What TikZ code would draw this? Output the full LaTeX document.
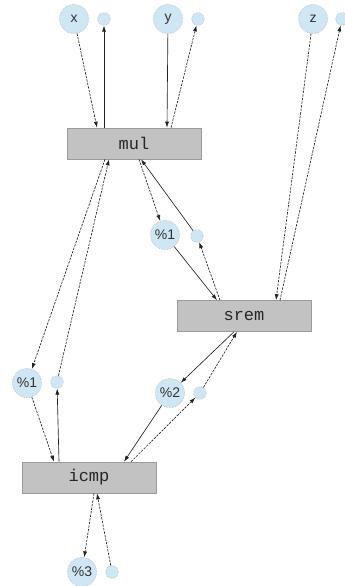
\documentclass[tikz,border=0pt]{standalone}
\usepackage{fontspec}
\setmainfont{Liberation Sans}
\setmonofont{Liberation Mono}
\usetikzlibrary{arrows.meta}
\definecolor{valfill}{HTML}{CFE6F5}
\definecolor{valline}{HTML}{A9B8C2}
\definecolor{opfill}{HTML}{C2C2C2}
\definecolor{opline}{HTML}{9A9A9A}
\definecolor{edge}{HTML}{222222}
\begin{document}
\begin{tikzpicture}[x=1pt,y=-1pt,
  val/.style={circle,fill=valfill,draw=valline,densely dotted,line width=0.6pt,minimum size=29pt,inner sep=0pt,font=\fontsize{14}{14}\selectfont,text=black!80},
  use/.style={circle,fill=valfill,draw=valline,densely dotted,line width=0.6pt,minimum size=12.5pt,inner sep=0pt},
  op/.style={rectangle,fill=opfill,draw=opline,line width=0.6pt,minimum width=134pt,minimum height=31pt,inner sep=0pt,font=\ttfamily\fontsize{17}{17}\selectfont,text=black!85},
  sl/.style={draw=edge,line width=0.65pt,-{Latex[length=6pt,width=4pt]}},
  dl/.style={sl,dash pattern=on 2.4pt off 1.2pt}]
\useasboundingbox (0,0) rectangle (345,586);
% value nodes
\node[val] (x) at (74,19) {x};
\node[use] (xs) at (104,19) {};
\node[val] (y) at (168,19) {y};
\node[use] (ys) at (198,19) {};
\node[val] (z) at (313,19) {z};
\node[use] (zs) at (342,19) {};
\node[val] (v1r) at (165,235) {\%1};
\node[use] (v1rs) at (197,236) {};
\node[val] (v1l) at (27,383) {\%1};
\node[use] (v1ls) at (57,382) {};
\node[val] (v2) at (170,393) {\%2};
\node[use] (v2s) at (200,393) {};
\node[val] (v3) at (82,572) {\%3};
\node[use] (v3s) at (112,572) {};
% operation nodes
\node[op] (mul) at (134,143.5) {mul};
\node[op] (srem) at (244,316) {srem};
\node[op] (icmp) at (89,477.5) {icmp};
% edges around mul
\draw[dl] (x) -- ([xshift=-37pt]mul.north);
\draw[sl] ([xshift=-30pt]mul.north) -- (xs);
\draw[sl] (y) -- ([xshift=33pt]mul.north);
\draw[dl] ([xshift=37pt]mul.north) -- (ys);
\draw[dl] ([xshift=5pt]mul.south) -- (v1r);
\draw[sl] (v1rs) -- ([xshift=7pt]mul.south);
\draw[dl] ([xshift=-29pt]mul.south) -- (v1l);
\draw[dl] (v1ls) -- ([xshift=-25pt]mul.south);
% edges around srem
\draw[sl] (v1r) -- ([xshift=-27pt]srem.north);
\draw[dl] ([xshift=-24pt]srem.north) -- (v1rs);
\draw[dl] (z) -- ([xshift=32pt]srem.north);
\draw[dl] ([xshift=36pt]srem.north) -- (zs);
\draw[sl] ([xshift=-10pt]srem.south) -- (v2);
\draw[dl] (v2s) -- ([xshift=-7pt]srem.south);
% edges around icmp
\draw[dl] (v1l) -- ([xshift=-35pt]icmp.north);
\draw[sl] ([xshift=-30pt]icmp.north) -- (v1ls);
\draw[sl] (v2) -- ([xshift=35pt]icmp.north);
\draw[dl] ([xshift=42pt]icmp.north) -- (v2s);
\draw[dl] ([xshift=5pt]icmp.south) -- (v3);
\draw[dl] (v3s) -- ([xshift=8pt]icmp.south);
\end{tikzpicture}
\end{document}
